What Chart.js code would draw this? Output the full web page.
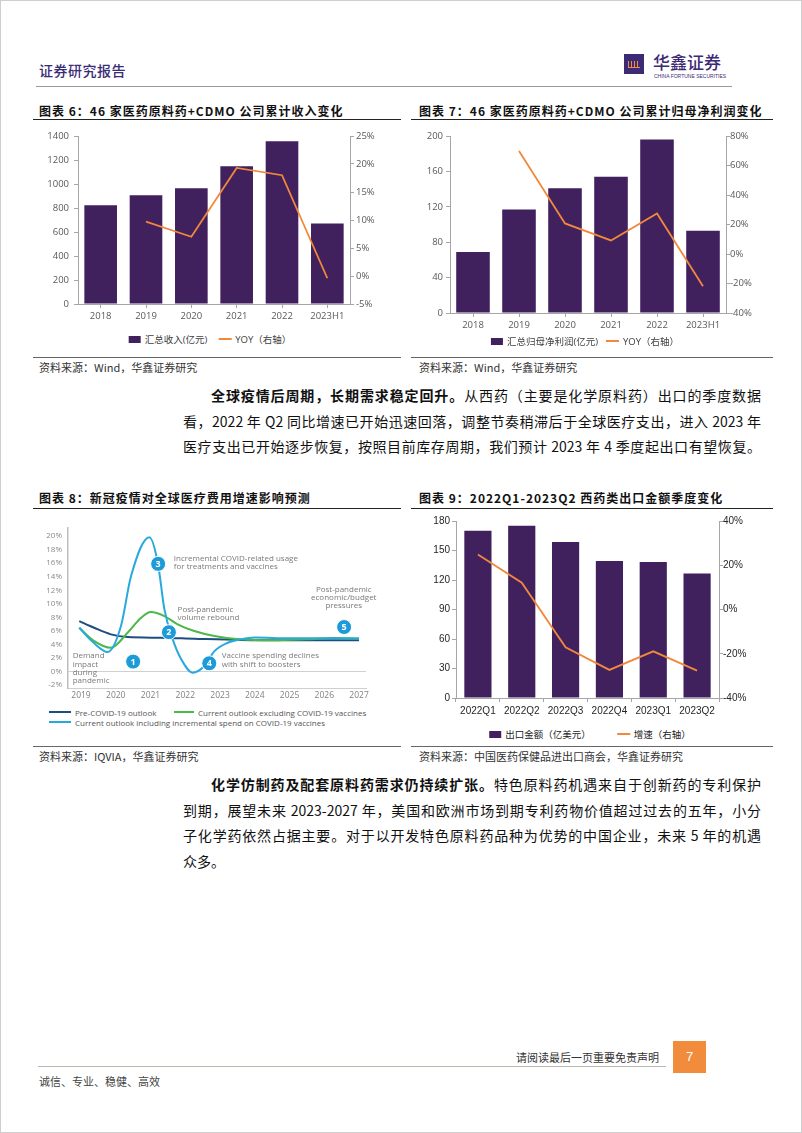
<!DOCTYPE html>
<html lang="zh-CN">
<head>
<meta charset="utf-8">
<title>证券研究报告</title>
<script src="https://cdn.jsdelivr.net/npm/chart.js@4.4.1/dist/chart.umd.min.js"></script>
<style>
  html, body { margin: 0; background: #fff; }
  #page { position: relative; width: 802px; height: 1133px; overflow: hidden; box-sizing: border-box; border: 1px solid #cfcfcf;
          font-family: "Noto Sans CJK SC", sans-serif; color: #222; background: #fff; }
  .a { position: absolute; white-space: nowrap; }
  .rule { position: absolute; height: 0; }
  .title { font-size: 12px; font-weight: 700; letter-spacing: 1px; color: #111; line-height: 16px; }
  .src { font-size: 11px; color: #333; line-height: 14px; }
  .para { position: absolute; left: 182px; width: 578px; font-size: 14px; color: #111; }
  .para div { height: 25.6px; line-height: 25.6px; text-align: justify; text-align-last: justify; }
  .para div.last { text-align-last: left; }
  .para b { font-weight: 700; }
  .legend { position: absolute; transform: translateX(-50%); display: flex; align-items: center; height: 14px; white-space: nowrap;
            font-family: "Open Sans", "Noto Sans CJK SC", sans-serif; font-size: 9.5px; color: #404040; }
  .legend span { display: flex; align-items: center; }
  .legend i { display: inline-block; margin-right: 4px; }
  canvas { position: absolute; }
  .lg8 { position: absolute; display: flex; align-items: center; font-family: "Open Sans", sans-serif; font-size: 8px; color: #555; white-space: nowrap; height: 10px; }
  .lg8 i { display: inline-block; width: 22px; height: 2.5px; margin-right: 4px; }
</style>
</head>
<body>
<div id="page">
  <!-- header -->
  <div class="a" style="left:38px;top:59px;font-size:14px;font-weight:500;color:#3b2c76;letter-spacing:0.5px;">证券研究报告</div>
  <div class="a" style="left:623px;top:53px;width:20px;height:20px;background:#3d2a74;">
    <div style="position:absolute;left:4px;top:7px;width:12px;height:6px;background:repeating-linear-gradient(90deg,#f08c3c 0 1.5px,transparent 1.5px 3px);border-bottom:1px solid #f08c3c;"></div>
  </div>
  <div class="a" style="left:652px;top:50px;font-size:17px;font-weight:500;color:#3d2a74;line-height:22px;">华鑫证券</div>
  <div class="a" style="left:653px;top:72px;font-size:5px;color:#3d2a74;font-family:'Liberation Sans';line-height:6px;">CHINA FORTUNE SECURITIES</div>
  <div class="rule" style="left:35px;top:85px;width:696px;border-top:1px solid #9a9a9a;"></div>

  <!-- chart 6 / 7 -->
  <div class="a title" style="left:38px;top:102px;">图表 6：46 家医药原料药+CDMO 公司累计收入变化</div>
  <div class="rule" style="left:32px;top:118px;width:368px;border-top:1.5px solid #222;"></div>
  <div class="a title" style="left:418px;top:102px;">图表 7：46 家医药原料药+CDMO 公司累计归母净利润变化</div>
  <div class="rule" style="left:410px;top:118px;width:362px;border-top:1.5px solid #222;"></div>
  <canvas id="c6" width="372" height="203" style="left:30px;top:122px;"></canvas>
  <canvas id="c7" width="372" height="212" style="left:410px;top:122px;"></canvas>
  <div class="legend" id="lg6" style="left:209px;top:331px;"></div>
  <div class="legend" id="lg7" style="left:584px;top:333px;"></div>
  <div class="rule" style="left:32px;top:356px;width:368px;border-top:1px solid #666;"></div>
  <div class="rule" style="left:410px;top:356px;width:362px;border-top:1px solid #666;"></div>
  <div class="a src" style="left:38px;top:359px;">资料来源：Wind，华鑫证券研究</div>
  <div class="a src" style="left:418px;top:359px;">资料来源：Wind，华鑫证券研究</div>

  <div class="para" style="top:382px;">
    <div style="padding-left:28px;"><b>全球疫情后周期，长期需求稳定回升。</b>从西药（主要是化学原料药）出口的季度数据</div>
    <div>看，2022 年 Q2 同比增速已开始迅速回落，调整节奏稍滞后于全球医疗支出，进入 2023 年</div>
    <div>医疗支出已开始逐步恢复，按照目前库存周期，我们预计 2023 年 4 季度起出口有望恢复。</div>
  </div>

  <!-- chart 8 / 9 -->
  <div class="a title" style="left:38px;top:489px;">图表 8：新冠疫情对全球医疗费用增速影响预测</div>
  <div class="rule" style="left:32px;top:507px;width:368px;border-top:1.5px solid #222;"></div>
  <div class="a title" style="left:418px;top:489px;">图表 9：2022Q1-2023Q2 西药类出口金额季度变化</div>
  <div class="rule" style="left:410px;top:507px;width:362px;border-top:1.5px solid #222;"></div>
  <canvas id="c8" width="370" height="186" style="left:30px;top:515px;"></canvas>
  <canvas id="c9" width="372" height="207" style="left:410px;top:512px;"></canvas>
  <div class="lg8" style="left:48px;top:706px;"><i style="background:#1c4f7d"></i>Pre-COVID-19 outlook</div>
  <div class="lg8" style="left:173px;top:706px;"><i style="background:#4cb848;width:20px"></i>Current outlook excluding COVID-19 vaccines</div>
  <div class="lg8" style="left:48px;top:716px;"><i style="background:#27a9de"></i>Current outlook including incremental spend on COVID-19 vaccines</div>
  <div class="legend" id="lg9" style="left:589px;top:726px;font-family:'Liberation Sans','Noto Sans CJK SC';font-size:9.5px;color:#222;"></div>
  <div class="rule" style="left:32px;top:745px;width:368px;border-top:1px solid #666;"></div>
  <div class="rule" style="left:410px;top:745px;width:362px;border-top:1px solid #666;"></div>
  <div class="a src" style="left:38px;top:748px;">资料来源：IQVIA，华鑫证券研究</div>
  <div class="a src" style="left:418px;top:748px;">资料来源：中国医药保健品进出口商会，华鑫证券研究</div>

  <div class="para" style="top:771px;">
    <div style="padding-left:28px;"><b>化学仿制药及配套原料药需求仍持续扩张。</b>特色原料药机遇来自于创新药的专利保护</div>
    <div>到期，展望未来 2023-2027 年，美国和欧洲市场到期专利药物价值超过过去的五年，小分</div>
    <div>子化学药依然占据主要。对于以开发特色原料药品种为优势的中国企业，未来 5 年的机遇</div>
    <div class="last">众多。</div>
  </div>

  <!-- footer -->
  <div class="a" style="right:142px;top:1049px;font-size:11px;color:#333;line-height:14px;">请阅读最后一页重要免责声明</div>
  <div class="a" style="left:672px;top:1040px;width:33px;height:32px;background:#f08c3c;color:#fff;font-size:13px;line-height:32px;text-align:center;font-family:'Liberation Sans';">7</div>
  <div class="rule" style="left:37px;top:1065px;width:628px;border-top:1px solid #b8b8ac;"></div>
  <div class="a" style="left:38px;top:1073px;font-size:11px;color:#444;line-height:14px;">诚信、专业、稳健、高效</div>
</div>

<script>
'use strict';
// chart 6: revenue
const years = ['2018', '2019', '2020', '2021', '2022', '2023H1'];
const revenue = [823, 906, 965, 1148, 1356, 671];
const revenueYoy = [null, 9.7, 7.0, 19.3, 18.0, -0.4];
const revenueTicks = [0, 200, 400, 600, 800, 1000, 1200, 1400];
const revenueYoyTicks = [-5, 0, 5, 10, 15, 20, 25];

// chart 7: net profit
const profit = [69, 117, 141, 154, 196, 93];
const profitYoy = [null, 69.9, 20.7, 9.2, 27.4, -21.9];
const profitTicks = [0, 40, 80, 120, 160, 200];
const profitYoyTicks = [-40, -20, 0, 20, 40, 60, 80];

// chart 9: quarterly export
const quarters = ['2022Q1', '2022Q2', '2022Q3', '2022Q4', '2023Q1', '2023Q2'];
const exportAmt = [170.2, 175.2, 158.6, 139.2, 138.2, 126.7];
const exportGrowth = [24.9, 12.1, -17.1, -27.3, -18.9, -27.6];
const exportTicks = [0, 30, 60, 90, 120, 150, 180];
const exportGrowthTicks = [-40, -20, 0, 20, 40];

// chart 8: IQVIA outlook (year, %)
const outlookYears = [2019, 2020, 2021, 2022, 2023, 2024, 2025, 2026, 2027];
const outlookTicks = [-2, 0, 2, 4, 6, 8, 10, 12, 14, 16, 18, 20];
const preCovidX = [2018.95, 2019.38, 2019.86, 2020.34, 2021.3, 2022.26, 2023.6, 2025, 2027];
const preCovidY = [7.44, 6.45, 5.48, 5.08, 4.98, 4.83, 4.65, 4.6, 4.6];
const exclX = [2018.95, 2019.35, 2019.86, 2020.34, 2020.73, 2021.01, 2021.4, 2021.78, 2022.26, 2022.84, 2023.6, 2024.5, 2025.5, 2026.3, 2027];
const exclY = [6.45, 4.6, 3.5, 5.72, 7.93, 8.77, 8.18, 6.96, 5.97, 5.23, 4.74, 4.6, 4.75, 4.95, 4.85];
const inclX = [2018.95, 2019.35, 2019.77, 2020.15, 2020.44, 2020.97, 2021.21, 2021.4, 2021.64, 2021.88, 2022.21, 2022.55, 2022.84, 2023.22, 2023.6, 2024, 2025, 2026, 2027];
const inclY = [6.45, 4.3, 2.87, 6.7, 14.1, 19.85, 16.06, 9.17, 4.74, 1.83, -0.19, 0.8, 3.0, 4.24, 4.74, 5.0, 4.9, 4.9, 4.85];
const callouts = [
  {n: '1', x: 2020.5, y: 1.45},
  {n: '2', x: 2021.53, y: 5.8},
  {n: '3', x: 2021.22, y: 15.9},
  {n: '4', x: 2022.69, y: 1.2},
  {n: '5', x: 2026.57, y: 6.56}
];
const notes = [
  {x: 2021.67, y: 16.65, text: 'Incremental COVID-related usage', align: 'left'},
  {x: 2021.67, y: 15.42, text: 'for treatments and vaccines', align: 'left'},
  {x: 2021.78, y: 9.17, text: 'Post-pandemic', align: 'left'},
  {x: 2021.78, y: 7.93, text: 'volume rebound', align: 'left'},
  {x: 2026.56, y: 12.13, text: 'Post-pandemic', align: 'center'},
  {x: 2026.56, y: 10.89, text: 'economic/budget', align: 'center'},
  {x: 2026.56, y: 9.66, text: 'pressures', align: 'center'},
  {x: 2023.05, y: 2.27, text: 'Vaccine spending declines', align: 'left'},
  {x: 2023.05, y: 1.05, text: 'with shift to boosters', align: 'left'},
  {x: 2018.76, y: 2.27, text: 'Demand', align: 'left'},
  {x: 2018.76, y: 1.05, text: 'impact', align: 'left'},
  {x: 2018.76, y: -0.19, text: 'during', align: 'left'},
  {x: 2018.76, y: -1.42, text: 'pandemic', align: 'left'}
];

const PURPLE = '#41205e';
const ORANGE = '#f1883b';
const AXIS = '#a6a6a6';

function comboChart(id, opt) {
  const tickFont = {family: opt.family, size: opt.size};
  return new Chart(document.getElementById(id), {
    type: 'bar',
    data: {
      labels: opt.labels,
      datasets: [
        {
          type: 'line', label: opt.lineLabel, data: opt.line, yAxisID: 'y1',
          borderColor: ORANGE, backgroundColor: ORANGE, borderWidth: 1.8,
          pointRadius: 0, tension: 0, order: 0
        },
        {
          type: 'bar', label: opt.barLabel, data: opt.bars, yAxisID: 'y',
          backgroundColor: PURPLE, barPercentage: opt.barPct, categoryPercentage: 1, order: 1
        }
      ]
    },
    options: {
      responsive: false,
      animation: false,
      events: [],
      layout: {padding: {top: opt.top, left: 0, right: 0, bottom: 0}},
      plugins: {legend: {display: false}, tooltip: {enabled: false}},
      scales: {
        x: {
          grid: {drawOnChartArea: false, offset: opt.gridOffset, tickLength: 4, color: AXIS},
          border: {color: AXIS},
          ticks: {font: tickFont, color: opt.color, padding: 3, maxRotation: 0, autoSkip: false},
          afterFit: s => { s.height = 22; }
        },
        y: {
          position: 'left',
          min: opt.left[0], max: opt.left[opt.left.length - 1],
          afterBuildTicks: s => { s.ticks = opt.left.map(v => ({value: v})); },
          grid: {drawOnChartArea: false, tickLength: 4, color: AXIS},
          border: {color: AXIS},
          ticks: {font: tickFont, color: opt.color, padding: opt.leftPad, callback: v => String(v)},
          afterFit: s => { s.width = opt.leftW; }
        },
        y1: {
          position: 'right',
          min: opt.right[0], max: opt.right[opt.right.length - 1],
          afterBuildTicks: s => { s.ticks = opt.right.map(v => ({value: v})); },
          grid: {drawOnChartArea: false, tickLength: 4, color: AXIS},
          border: {color: AXIS},
          ticks: {font: tickFont, color: opt.color, padding: opt.rightPad, callback: v => v + '%'},
          afterFit: s => { s.width = opt.rightW; }
        }
      }
    }
  });
}

// html legend from the chart's datasets, bar first then line
function fillLegend(elId, chart, gap) {
  const el = document.getElementById(elId);
  el.style.gap = gap + 'px';
  const sets = chart.data.datasets.slice().sort((a, b) => (a.type === 'bar' ? -1 : 1));
  sets.forEach(ds => {
    const item = document.createElement('span');
    const mark = document.createElement('i');
    if (ds.type === 'bar') {
      mark.style.cssText = 'width:12px;height:7px;background:' + ds.backgroundColor;
    } else {
      mark.style.cssText = 'width:13px;height:2px;background:' + ds.borderColor;
    }
    item.appendChild(mark);
    item.appendChild(document.createTextNode(ds.label));
    el.appendChild(item);
  });
}

const c6 = comboChart('c6', {
  labels: years, bars: revenue, line: revenueYoy,
  barLabel: '汇总收入(亿元)', lineLabel: 'YOY（右轴）',
  left: revenueTicks, right: revenueYoyTicks,
  family: 'Open Sans', size: 9.5, color: '#595959',
  top: 13, leftW: 47, rightW: 53, leftPad: 5, rightPad: 2,
  barPct: 0.72, gridOffset: false
});
fillLegend('lg6', c6, 11);

const c7 = comboChart('c7', {
  labels: years, bars: profit, line: profitYoy,
  barLabel: '汇总归母净利润(亿元)', lineLabel: 'YOY（右轴）',
  left: profitTicks, right: profitYoyTicks,
  family: 'Open Sans', size: 9.5, color: '#595959',
  top: 13, leftW: 39, rightW: 57, leftPad: 3, rightPad: 0,
  barPct: 0.73, gridOffset: false
});
fillLegend('lg7', c7, 8);

const c9 = comboChart('c9', {
  labels: quarters, bars: exportAmt, line: exportGrowth,
  barLabel: '出口金额（亿美元）', lineLabel: '增速（右轴）',
  left: exportTicks, right: exportGrowthTicks,
  family: 'Liberation Sans', size: 10, color: '#262626',
  top: 8, leftW: 45, rightW: 64, leftPad: 2, rightPad: 0,
  barPct: 0.62, gridOffset: true
});
fillLegend('lg9', c9, 26);

// chart 8
const calloutPlugin = {
  id: 'callouts',
  afterDatasetsDraw(chart) {
    const {ctx, scales: {x, y}} = chart;
    ctx.save();
    ctx.font = '8px "Open Sans"';
    ctx.fillStyle = '#7a7a7a';
    ctx.textBaseline = 'middle';
    notes.forEach(n => {
      ctx.textAlign = n.align;
      ctx.fillText(n.text, x.getPixelForValue(n.x), y.getPixelForValue(n.y));
    });
    callouts.forEach(c => {
      const px = x.getPixelForValue(c.x);
      const py = y.getPixelForValue(c.y);
      ctx.beginPath();
      ctx.arc(px, py, 7.5, 0, Math.PI * 2);
      ctx.fillStyle = '#1c9bd8';
      ctx.fill();
      ctx.lineWidth = 1;
      ctx.strokeStyle = '#ffffff';
      ctx.stroke();
      ctx.fillStyle = '#ffffff';
      ctx.font = 'bold 9px "Open Sans"';
      ctx.textAlign = 'center';
      ctx.fillText(c.n, px, py + 0.5);
    });
    ctx.restore();
  }
};

const pairs = (xs, ys) => xs.map((v, i) => ({x: v, y: ys[i]}));

new Chart(document.getElementById('c8'), {
  type: 'line',
  data: {
    datasets: [
      {label: 'Current outlook including incremental spend on COVID-19 vaccines', data: pairs(inclX, inclY), borderColor: '#27a9de'},
      {label: 'Current outlook excluding COVID-19 vaccines', data: pairs(exclX, exclY), borderColor: '#4cb848'},
      {label: 'Pre-COVID-19 outlook', data: pairs(preCovidX, preCovidY), borderColor: '#1c4f7d'}
    ]
  },
  options: {
    responsive: false,
    animation: false,
    events: [],
    layout: {padding: {top: 12, right: 35, left: 0, bottom: 0}},
    elements: {
      point: {radius: 0},
      line: {borderWidth: 2, cubicInterpolationMode: 'monotone', fill: false}
    },
    plugins: {legend: {display: false}, tooltip: {enabled: false}},
    scales: {
      x: {
        type: 'linear', min: 2018.626, max: 2027.2,
        afterBuildTicks: s => { s.ticks = outlookYears.map(v => ({value: v})); },
        grid: {display: false, drawTicks: false},
        border: {display: true, color: '#cfcfcf', width: 1},
        ticks: {font: {family: 'Open Sans', size: 8.5}, color: '#808080', padding: 2, maxRotation: 0, callback: v => String(v)},
        afterFit: s => { s.height = 14; }
      },
      y: {
        min: -2.45, max: 21.2,
        afterBuildTicks: s => { s.ticks = outlookTicks.map(v => ({value: v})); },
        grid: {drawTicks: false, color: c => (c.tick && c.tick.value === 0 ? '#d0d0d0' : 'rgba(0,0,0,0)')},
        border: {display: true, color: '#bdbdbd', width: 1.5},
        ticks: {font: {family: 'Open Sans', size: 8}, color: '#8a8a8a', padding: 6, callback: v => v + '%'},
        afterFit: s => { s.width = 37; }
      }
    }
  },
  plugins: [calloutPlugin]
});
</script>
</body>
</html>
